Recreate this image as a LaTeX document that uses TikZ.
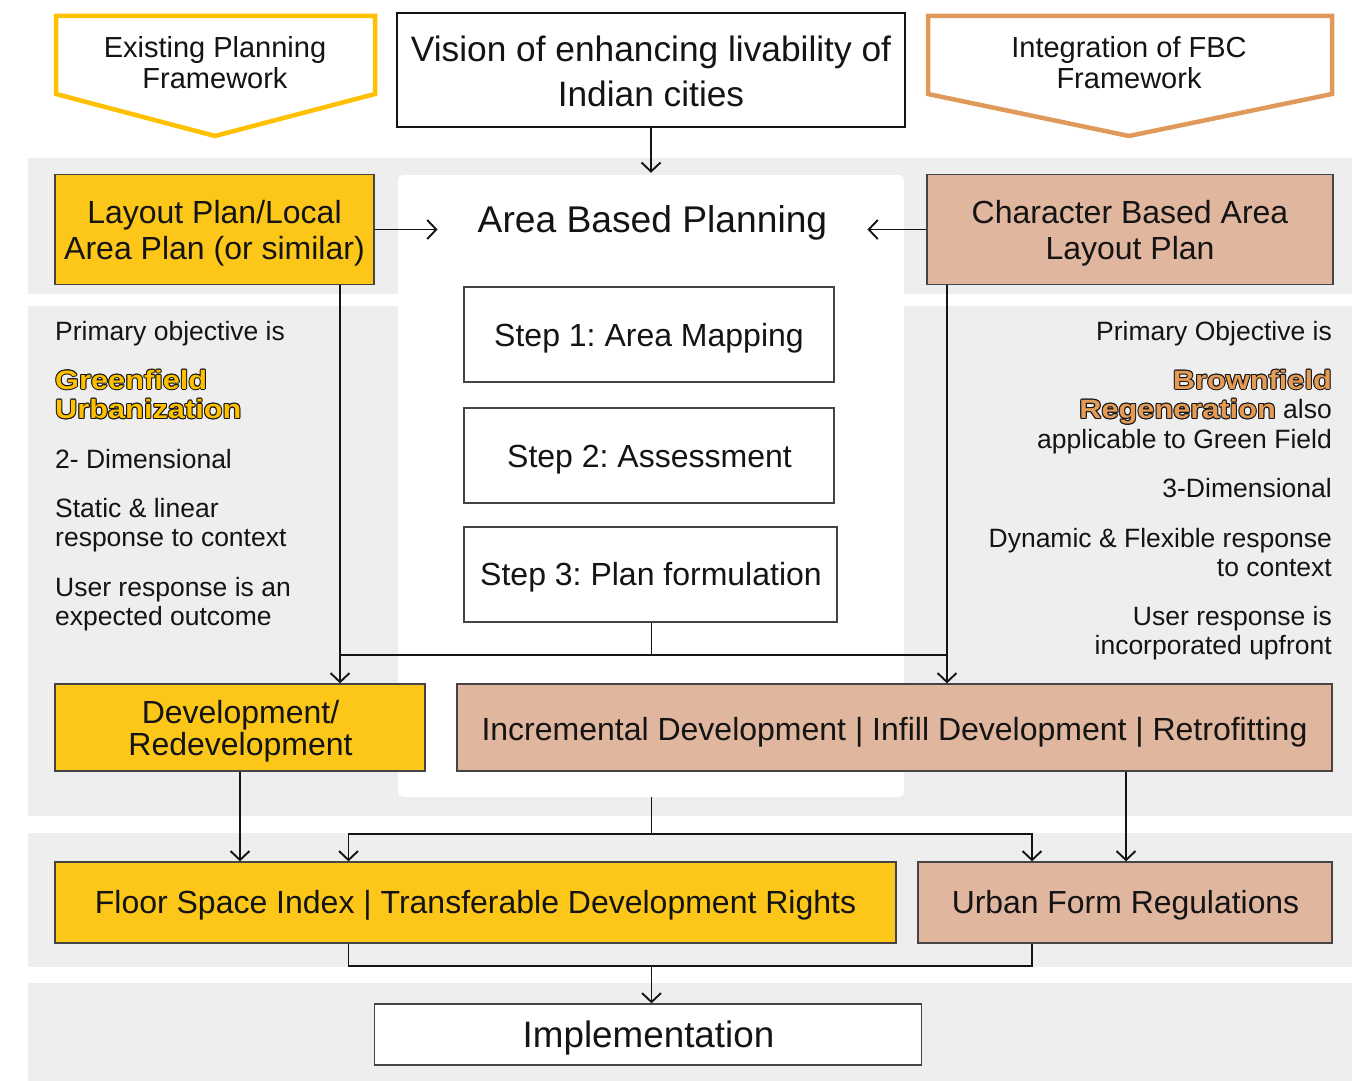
\documentclass[tikz,border=0pt]{standalone}
\usepackage{fontspec}
\setmainfont{Liberation Sans}
\newfontfamily\heavyfont[FakeStretch=1.16]{Liberation Sans Bold}
\usetikzlibrary{arrows.meta}
\frenchspacing

\definecolor{bandgray}{HTML}{EEEEEE}
\definecolor{boxyellow}{HTML}{FCC719}
\definecolor{boxtan}{HTML}{E0B69E}
\definecolor{penyellow}{HTML}{FFC000}
\definecolor{penorange}{HTML}{E0995A}
\definecolor{hlorange}{HTML}{E39B55}
\definecolor{ink}{HTML}{141414}
\definecolor{edge}{HTML}{444444}

% two stacked lines, baseline of the node = baseline of the first line
\newcommand\tlines[3]{\begin{tabular}[t]{@{}#1@{}}#2\\#3\end{tabular}}
% bold highlighted word with a thin dark outline
\newcommand\shiftcopy[3]{\rlap{\hspace*{#1}\raisebox{#2}{#3}}}
\newcommand\hltext[2]{{\heavyfont\color{ink}%
  \shiftcopy{1pt}{0pt}{#2}\shiftcopy{-1pt}{0pt}{#2}%
  \shiftcopy{0pt}{1pt}{#2}\shiftcopy{0pt}{-1pt}{#2}%
  \shiftcopy{.7pt}{.7pt}{#2}\shiftcopy{-.7pt}{.7pt}{#2}%
  \shiftcopy{.7pt}{-.7pt}{#2}\shiftcopy{-.7pt}{-.7pt}{#2}%
  \textcolor{#1}{#2}}}

\tikzset{
  band/.style={fill=bandgray, draw=none},
  box/.style={draw=edge, line width=1.3pt, inner sep=0pt},
  ybox/.style={box, fill=boxyellow},
  tbox/.style={box, fill=boxtan},
  wbox/.style={box, fill=white},
  lbl/.style={inner sep=0pt, anchor=base, text=ink},
  lblw/.style={lbl, anchor=base west},
  lble/.style={lbl, anchor=base east},
  body/.style={font=\fontsize{26.5}{29.5}\selectfont},
  conn/.style={line width=1.9pt, draw=ink},
  arr/.style={conn, -{Straight Barb[length=9pt,width=19pt]}},
  chevron/.style={line width=4.5pt, fill=white, line join=miter},
}

\begin{document}
\begin{tikzpicture}[x=1pt, y=-1pt]
\useasboundingbox (0,0) rectangle (1357,1081);

% background bands
\fill[band] (28,158) rectangle (1352,294);
\fill[band] (28,306) rectangle (1352,816);
\fill[band] (28,833) rectangle (1352,967);
\fill[band] (28,983) rectangle (1352,1081);

% white panel of the area based planning steps
\node[fill=white, rounded corners=5pt, minimum width=506pt, minimum height=622pt, inner sep=0pt] (panel) at (651,486) {};

% header chevrons
\draw[chevron, draw=penyellow] (56,16) -- (375,16) -- (375,94) -- (215,136) -- (56,94) -- cycle;
\node[lbl, font=\fontsize{29}{31.5}\selectfont] (exT) at (215,57.5) {\tlines{c}{Existing Planning}{Framework}};
\draw[chevron, draw=penorange] (928,16) -- (1332,16) -- (1332,94) -- (1129,136) -- (928,94) -- cycle;
\node[lbl, font=\fontsize{29}{31.5}\selectfont] (fbcT) at (1129,57.5) {\tlines{c}{Integration of FBC}{Framework}};

% vision
\node[box, draw=ink, line width=2.2pt, fill=white, minimum width=508pt, minimum height=114pt] (vision) at (651,70) {};
\node[lbl, font=\fontsize{35.3}{44}\selectfont] (visionT) at (651,62) {\tlines{c}{Vision of enhancing livability of}{Indian cities}};

% first row
\node[ybox, minimum width=319pt, minimum height=110pt] (layout) at (214.5,229.5) {};
\node[lbl, font=\fontsize{32}{36}\selectfont] (layoutT) at (214.5,223) {\tlines{c}{Layout Plan/Local}{Area Plan (or similar)}};
\node[tbox, minimum width=406pt, minimum height=110pt] (char) at (1130,229.5) {};
\node[lbl, font=\fontsize{32}{36}\selectfont] (charT) at (1130,223) {\tlines{c}{Character Based Area}{Layout Plan}};
\node[lbl, font=\fontsize{37.2}{44}\selectfont, inner xsep=40pt] (abpT) at (652.5,232) {Area Based Planning};

% steps
\node[wbox, minimum width=370pt, minimum height=95pt] (s1) at (649,334.5) {};
\node[lbl, font=\fontsize{32}{38}\selectfont] (s1T) at (649,346) {Step 1: Area Mapping};
\node[wbox, minimum width=370pt, minimum height=95pt] (s2) at (649,455.5) {};
\node[lbl, font=\fontsize{32}{38}\selectfont] (s2T) at (649.5,467) {Step 2: Assessment};
\node[wbox, minimum width=373pt, minimum height=95pt] (s3) at (650.5,574.5) {};
\node[lbl, font=\fontsize{32}{38}\selectfont] (s3T) at (651,585) {Step 3: Plan formulation};

% left notes
\node[lblw, body] (l1) at (55,340) {Primary objective is};
\node[lblw, body] (l2) at (55,389) {\tlines{l}{\hltext{penyellow}{Greenfield}}{\hltext{penyellow}{Urbanization}}};
\node[lblw, body] (l3) at (55,468) {2- Dimensional};
\node[lblw, body] (l4) at (55,517) {\tlines{l}{Static \& linear}{response to context}};
\node[lblw, body] (l5) at (55,596) {\tlines{l}{User response is an}{expected outcome}};

% right notes
\node[lble, body] (r1) at (1332,340) {Primary Objective is};
\node[lble, body] (r2) at (1332,389) {\begin{tabular}[t]{@{}r@{}}\hltext{hlorange}{Brownfield}\\ \hltext{hlorange}{Regeneration} also\\ applicable to Green Field\end{tabular}};
\node[lble, body] (r3) at (1332,497) {3-Dimensional};
\node[lble, body] (r4) at (1332,547) {\tlines{r}{Dynamic \& Flexible response}{to context}};
\node[lble, body] (r5) at (1332,625) {\tlines{r}{User response is}{incorporated upfront}};

% development row
\node[ybox, minimum width=370pt, minimum height=87pt] (dev) at (240,727.5) {};
\node[lbl, font=\fontsize{32}{32}\selectfont] (devT) at (240.5,723) {\tlines{c}{Development/}{Redevelopment}};
\node[tbox, minimum width=875pt, minimum height=87pt] (inc) at (894.5,727.5) {};
\node[lbl, font=\fontsize{32}{36}\selectfont] (incT) at (894.5,740) {Incremental Development | Infill Development | Retrofitting};

% regulation row
\node[ybox, minimum width=841pt, minimum height=81pt] (fsi) at (475.5,902.5) {};
\node[lbl, font=\fontsize{32}{36}\selectfont] (fsiT) at (475.5,913) {Floor Space Index | Transferable Development Rights};
\node[tbox, minimum width=414pt, minimum height=81pt] (urban) at (1125,902.5) {};
\node[lbl, font=\fontsize{31.9}{36}\selectfont] (urbanT) at (1125.5,913) {Urban Form Regulations};

% implementation
\node[wbox, minimum width=547pt, minimum height=61pt] (impl) at (648,1034.5) {};
\node[lbl, font=\fontsize{36.8}{40}\selectfont] (implT) at (648.5,1047) {Implementation};

% connector guide positions
\coordinate (lx) at (340,0);
\coordinate (rx) at (947,0);
\coordinate (midrow) at (0,655);
\coordinate (row2) at (0,834);
\coordinate (row3) at (0,966);
\coordinate (fx) at (348.5,0);
\coordinate (ux) at (1032,0);
\coordinate (ix) at (1126,0);
\coordinate (cx) at (651.5,0);

% connectors
\draw[arr, shorten >=2pt] (vision.south) -- (panel.north);
\draw[arr] (layout.east) -- (layout.east -| abpT.west);
\draw[arr] (char.west) -- (char.west -| abpT.east);
\draw[arr] (layout.south -| lx) -- (dev.north -| lx);
\draw[arr] (char.south -| rx) -- (inc.north -| rx);
\draw[conn] (s3.south -| cx) -- (midrow -| cx);
\draw[conn] (midrow -| lx) -- (midrow -| rx);
\draw[conn] (panel.south -| cx) -- (row2 -| cx);
\draw[arr] (row2 -| cx) -| (fsi.north -| fx);
\draw[arr] (row2 -| cx) -| (urban.north -| ux);
\draw[arr] (dev.south) -- (dev.south |- fsi.north);
\draw[arr] (inc.south -| ix) -- (urban.north -| ix);
\draw[conn] (fsi.south -| fx) |- (row3 -| ux) -- (urban.south -| ux);
\draw[arr] (row3 -| cx) -- (impl.north -| cx);
\end{tikzpicture}
\end{document}
